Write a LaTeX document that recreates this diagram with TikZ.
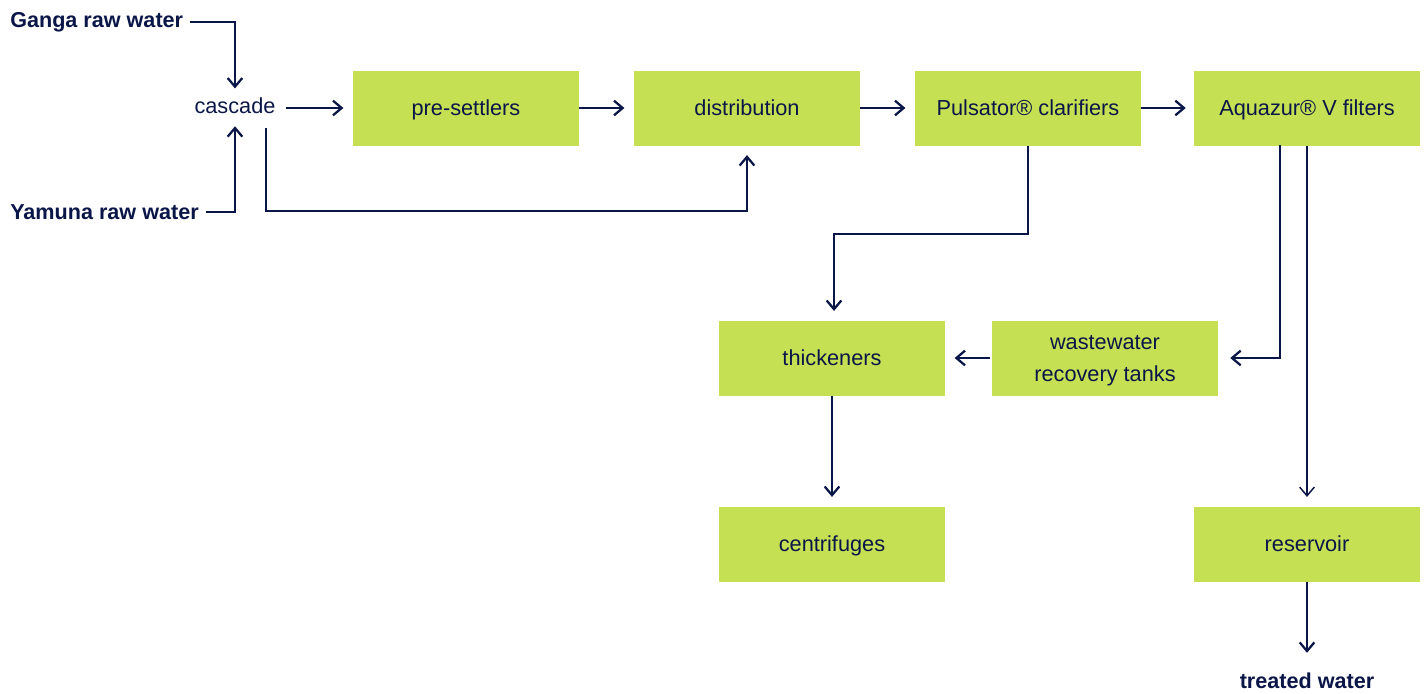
\documentclass[tikz,border=0pt]{standalone}
\usepackage{fontspec}
\setmainfont{Liberation Sans}
\usetikzlibrary{arrows.meta,calc}
\definecolor{boxgreen}{HTML}{C5E052}
\definecolor{navy}{HTML}{0B1648}
\begin{document}
\begin{tikzpicture}[x=0.75pt,y=-0.75pt,
  box/.style={fill=boxgreen, minimum width=169.5pt, minimum height=56.25pt, inner sep=0pt,
    align=center, text=navy, text depth=0pt, font=\fontsize{16.3}{24}\selectfont},
  lbl/.style={inner sep=0pt, text=navy, font=\fontsize{16.2}{19}\selectfont\bfseries},
  plain/.style={inner sep=0pt, text=navy, font=\fontsize{16.3}{19}\selectfont},
  arr/.style={draw=navy, line width=1.7pt, -{Straight Barb[length=6.5pt,width=11pt]}, shorten >=7pt},
  thin/.style={line width=1.1pt}]
\useasboundingbox (0,0) rectangle (1428,693);
\node[box] (pre) at (466,108) {pre-settlers};
\node[box] (dist) at (747,108) {distribution};
\node[box] (puls) at (1028,108) {Pulsator® clarifiers};
\node[box] (aqua) at (1307,108) {Aquazur® V filters};
\node[box] (thick) at (832,358) {thickeners};
\node[box] (waste) at (1105,358) {wastewater\\recovery tanks};
\node[box] (centr) at (832,544) {centrifuges};
\node[box] (res) at (1307,544) {reservoir};
\node[lbl, anchor=west] (ganga) at (10,22) {Ganga raw water};
\node[lbl, anchor=west] (yamuna) at (10,212) {Yamuna raw water};
\node[plain] (cascade) at (235,106) {cascade};
\node[lbl] (treated) at (1307,681) {treated water};
\coordinate (bypass) at (266,128);
\coordinate (filtout) at (1280,145);

\draw[arr, shorten <=5pt] (ganga.east) -| (cascade.north);
\draw[arr, shorten <=5pt, shorten >=9pt] (yamuna.east) -| (cascade.south);
\draw[arr, shorten <=7.5pt] (cascade.east |- pre.west) -- (pre.west);
\draw[arr] (pre.east) -- (dist.west);
\draw[arr] (dist.east) -- (puls.west);
\draw[arr, shorten >=6pt] (puls.east) -- (aqua.west);
\draw[arr] (bypass) -- ++(0,83) -| (dist.south);
\draw[arr] (puls.south) -- ++(0,88) -| ([xshift=1.5pt]thick.north);
\draw[arr, shorten >=9pt] (filtout) |- (waste.east);
\draw[arr, thin] (aqua.south) -- (res.north);
\draw[arr, shorten <=1.5pt] (waste.west) -- (thick.east);
\draw[arr] (thick.south) -- (centr.north);
\draw[arr, shorten >=15pt] (res.south) -- (treated.north);
\end{tikzpicture}
\end{document}
